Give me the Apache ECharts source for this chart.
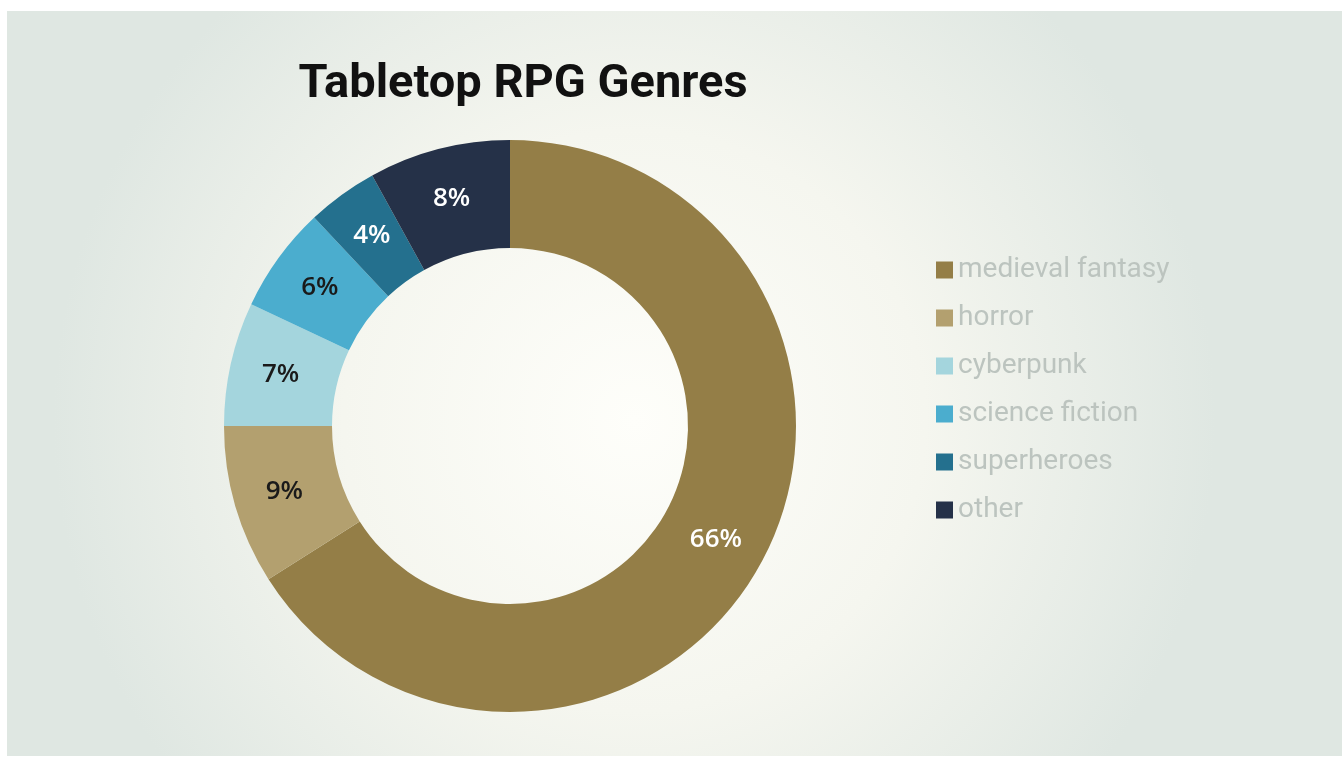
<!DOCTYPE html>
<html>
<head>
<meta charset="utf-8">
<script src="https://cdn.jsdelivr.net/npm/echarts@6/dist/echarts.min.js"></script>
<style>
html,body{margin:0;padding:0;background:#fff;}
#chart{width:1342px;height:758px;}
</style>
</head>
<body>
<div id="chart"></div>
<script>
const categories = ['medieval fantasy', 'horror', 'cyberpunk', 'science fiction', 'superheroes', 'other'];
const shares = [66, 9, 7, 6, 4, 8];
const colors = ['#947e47', '#b3a06f', '#a4d5dd', '#4badce', '#24708e', '#253148'];
const labelColors = ['#ffffff', '#1a1a1a', '#1a1a1a', '#1a1a1a', '#ffffff', '#ffffff'];

const chart = echarts.init(document.getElementById('chart'));
const data = categories.map((c, i) => ({
  name: c,
  value: shares[i],
  itemStyle: { color: colors[i] },
  label: { color: labelColors[i] }
}));

chart.setOption({
  backgroundColor: '#ffffff',
  animation: false,
  graphic: [{
    type: 'rect',
    z: -10,
    silent: true,
    shape: { x: 7, y: 11, width: 1335, height: 745 },
    style: {
      fill: {
        type: 'radial', x: 0.47, y: 0.55, r: 0.78,
        colorStops: [
          { offset: 0, color: '#fefefa' },
          { offset: 0.5, color: '#f5f6ef' },
          { offset: 1, color: '#dfe7e2' }
        ]
      }
    }
  }],
  title: {
    text: 'Tabletop RPG Genres',
    left: 518, top: 57, textAlign: 'center',
    textStyle: { fontFamily: 'Roboto', fontWeight: 'bold', fontSize: 47, color: '#111111' }
  },
  legend: {
    orient: 'vertical',
    left: 931, top: 251,
    itemWidth: 17, itemHeight: 17,
    itemGap: 20,
    icon: 'rect',
    data: categories,
    textStyle: { fontFamily: 'Roboto', fontSize: 28, color: '#bcc4bf', padding: [0, 0, 0, 0] }
  },
  series: [{
    type: 'pie',
    center: [510, 426],
    radius: [178, 286],
    startAngle: 90,
    clockwise: true,
    avoidLabelOverlap: false,
    label: {
      show: true,
      position: 'inside',
      formatter: '{c}%',
      fontFamily: 'Open Sans',
      fontWeight: 600,
      fontSize: 26
    },
    labelLine: { show: false },
    emphasis: { disabled: true },
    data: data
  }]
});
</script>
</body>
</html>
